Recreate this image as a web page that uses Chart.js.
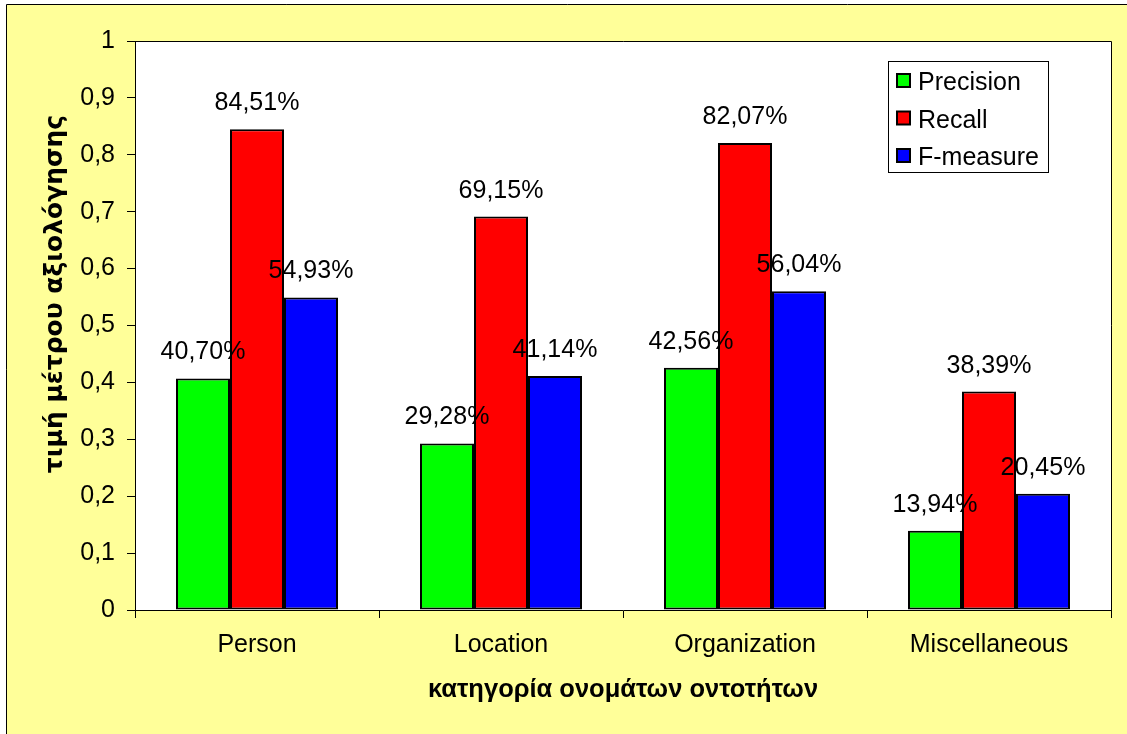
<!DOCTYPE html>
<html>
<head>
<meta charset="utf-8">
<script src="https://cdn.jsdelivr.net/npm/chart.js@4.4.0/dist/chart.umd.min.js"></script>
<style>
  html, body { margin: 0; padding: 0; background: #ffffff; }
  #wrap { position: relative; width: 1127px; height: 734px; }
</style>
</head>
<body>
<div id="wrap"><canvas id="chart"></canvas></div>
<script>
// Categories and scores (percent) per entity class
const categories = ['Person', 'Location', 'Organization', 'Miscellaneous'];
const seriesNames = ['Precision', 'Recall', 'F-measure'];
const precision = [40.70, 29.28, 42.56, 13.94];
const recall = [84.51, 69.15, 82.07, 38.39];
const fMeasure = [54.93, 41.14, 56.04, 20.45];
const yTickLabels = ['0', '0,1', '0,2', '0,3', '0,4', '0,5', '0,6', '0,7', '0,8', '0,9', '1'];
const xTitle = 'κατηγορία ονομάτων οντοτήτων';
const yTitle = 'τιμή μέτρου αξιολόγησης';
const seriesColors = ['#00FF00', '#FF0000', '#0000FF'];

const FONT = '"Liberation Sans", Arial, sans-serif';
const TEXT_SIZE = 25;
const seriesValues = [precision, recall, fMeasure];

const pctText = v => v.toFixed(2).replace('.', ',') + '%';

// Page background, yellow chart frame and white plot area
const framePlugin = {
  id: 'frame',
  beforeDraw(chart) {
    const { ctx, chartArea: a, width, height } = chart;
    ctx.save();
    ctx.fillStyle = '#ffffff';
    ctx.fillRect(0, 0, width, height);
    ctx.fillStyle = '#FFFF99';
    ctx.fillRect(6, 5, width, height);
    ctx.strokeStyle = '#000000';
    ctx.lineWidth = 1;
    ctx.beginPath();
    ctx.moveTo(6.5, height + 2);
    ctx.lineTo(6.5, 4.5);
    ctx.lineTo(width + 2, 4.5);
    ctx.stroke();
    ctx.fillStyle = '#ffffff';
    ctx.fillRect(a.left, a.top, a.right - a.left, a.bottom - a.top);
    ctx.beginPath();
    ctx.moveTo(a.left, a.top + 0.5);
    ctx.lineTo(a.right + 0.5, a.top + 0.5);
    ctx.lineTo(a.right + 0.5, a.bottom);
    ctx.stroke();
    ctx.restore();
  }
};

// Percentage labels above each bar
const valueLabelPlugin = {
  id: 'valueLabels',
  afterDatasetsDraw(chart) {
    const { ctx } = chart;
    ctx.save();
    ctx.font = TEXT_SIZE + 'px ' + FONT;
    ctx.fillStyle = '#000000';
    ctx.textAlign = 'center';
    ctx.textBaseline = 'alphabetic';
    chart.data.datasets.forEach((ds, i) => {
      const meta = chart.getDatasetMeta(i);
      meta.data.forEach((bar, j) => {
        ctx.fillText(pctText(seriesValues[i][j]), bar.x, bar.y - 19);
      });
    });
    ctx.restore();
  }
};

// Boxed legend in the upper right of the plot and rotated y-axis title
const legendPlugin = {
  id: 'boxLegend',
  afterDraw(chart) {
    const { ctx } = chart;
    ctx.save();
    ctx.fillStyle = '#ffffff';
    ctx.fillRect(888, 61, 160, 111);
    ctx.strokeStyle = '#000000';
    ctx.lineWidth = 1;
    ctx.strokeRect(888.5, 61.5, 160, 111);
    ctx.font = TEXT_SIZE + 'px ' + FONT;
    ctx.textAlign = 'left';
    ctx.textBaseline = 'alphabetic';
    chart.data.datasets.forEach((ds, i) => {
      const cy = 81 + i * 37.5;
      ctx.fillStyle = ds.backgroundColor;
      ctx.fillRect(897, cy - 7, 13, 13);
      ctx.lineWidth = 2;
      ctx.strokeRect(897, cy - 7, 13, 13);
      ctx.fillStyle = '#000000';
      ctx.fillText(ds.label, 918, cy + 9);
    });

    ctx.translate(55, 294);
    ctx.rotate(-Math.PI / 2);
    ctx.font = 'bold 25px "DejaVu Sans", ' + FONT;
    ctx.textAlign = 'center';
    ctx.textBaseline = 'middle';
    ctx.fillStyle = '#000000';
    ctx.fillText(yTitle, 0, 0);
    ctx.restore();
  }
};

const datasets = seriesNames.map((name, i) => ({
  label: name,
  data: seriesValues[i].map(v => v / 100),
  backgroundColor: seriesColors[i],
  borderColor: '#000000',
  borderWidth: 2,
  borderSkipped: false,
  categoryPercentage: 0.664,
  barPercentage: 1.0
}));

new Chart(document.getElementById('chart'), {
  type: 'bar',
  data: { labels: categories, datasets },
  options: {
    responsive: true,
    maintainAspectRatio: false,
    animation: false,
    devicePixelRatio: 1,
    layout: { padding: { top: 41, right: 16, bottom: 0, left: 0 } },
    plugins: {
      legend: { display: false },
      title: { display: false },
      tooltip: { enabled: false }
    },
    scales: {
      x: {
        afterFit(scale) { scale.height = 124; },
        grid: {
          display: true,
          drawOnChartArea: false,
          drawTicks: true,
          tickLength: 8,
          color: '#000000',
          lineWidth: 1,
          offset: true
        },
        border: { display: true, color: '#000000', width: 1 },
        ticks: {
          color: '#000000',
          font: { family: FONT, size: TEXT_SIZE },
          padding: 12,
          maxRotation: 0
        },
        title: {
          display: true,
          text: xTitle,
          color: '#000000',
          font: { family: FONT, size: 25.5, weight: 'bold' },
          padding: { top: 0, bottom: 29 }
        }
      },
      y: {
        min: 0,
        max: 1,
        afterFit(scale) { scale.width = 135; },
        grid: {
          display: true,
          drawOnChartArea: false,
          drawTicks: true,
          tickLength: 8,
          color: '#000000',
          lineWidth: 1
        },
        border: { display: true, color: '#000000', width: 1 },
        ticks: {
          stepSize: 0.1,
          color: '#000000',
          font: { family: FONT, size: TEXT_SIZE },
          padding: 12,
          callback: (value, index) => yTickLabels[index]
        },
        title: { display: false }
      }
    }
  },
  plugins: [framePlugin, valueLabelPlugin, legendPlugin]
});
</script>
</body>
</html>
